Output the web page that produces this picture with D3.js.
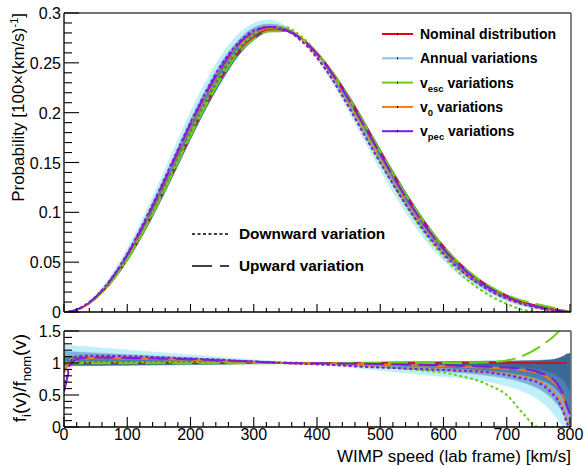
<!DOCTYPE html>
<html><head><meta charset="utf-8">
<script src="https://cdn.jsdelivr.net/npm/d3@7"></script>
<style>body{margin:0;background:#fff}svg{display:block}text{font-family:"Liberation Sans",Arial,sans-serif}</style>
</head><body><svg id="c" width="587" height="466"></svg>
<script>
// ---- data ----
const speed = [0,5,10,15,20,30,40,60,80,100,125,150,175,200,225,250,275,300,325,350,375,400,425,450,475,500,525,550,575,600,625,650,675,700,725,750,760,770,780,790,795,800];
const nominal = [0,0.0001,0.0005,0.0012,0.0022,0.0049,0.0088,0.0196,0.0345,0.0529,0.0803,0.1113,0.1443,0.1777,0.2093,0.2373,0.2605,0.2756,0.2832,0.2829,0.2750,0.2603,0.2399,0.2155,0.1887,0.1610,0.1339,0.1085,0.0856,0.0656,0.0489,0.0353,0.0246,0.0165,0.0103,0.0060,0.0047,0.0035,0.0024,0.0012,0.0006,0];
// annual variation family, as ratio to nominal (lightest -> darkest)
const annual1 = [1.28,1.28,1.27,1.27,1.265,1.26,1.25,1.235,1.22,1.205,1.185,1.165,1.145,1.13,1.11,1.09,1.07,1.05,1.035,1.015,1.0,0.975,0.955,0.935,0.91,0.885,0.86,0.835,0.81,0.79,0.765,0.74,0.70,0.64,0.56,0.43,0.35,0.25,0.13,0.02,0,0];
const annual2 = [1.18,1.18,1.175,1.175,1.17,1.165,1.16,1.15,1.14,1.13,1.12,1.105,1.095,1.085,1.07,1.06,1.045,1.035,1.02,1.01,1.0,0.99,0.975,0.96,0.945,0.93,0.915,0.90,0.885,0.87,0.85,0.83,0.80,0.76,0.70,0.60,0.54,0.46,0.35,0.20,0.10,0.05];
const annual3 = [1.10,1.10,1.10,1.10,1.10,1.095,1.095,1.09,1.085,1.08,1.075,1.07,1.06,1.055,1.045,1.04,1.03,1.02,1.01,1.005,1.0,0.995,0.988,0.98,0.972,0.963,0.953,0.943,0.933,0.922,0.91,0.895,0.875,0.85,0.81,0.75,0.71,0.66,0.57,0.43,0.32,0.24];
const annual4 = [1.02,1.02,1.02,1.02,1.02,1.02,1.02,1.02,1.02,1.02,1.018,1.016,1.014,1.012,1.01,1.008,1.006,1.004,1.002,1.0,1.0,0.999,0.996,0.993,0.99,0.986,0.982,0.978,0.974,0.97,0.965,0.958,0.95,0.94,0.925,0.90,0.88,0.85,0.80,0.72,0.64,0.56];
const annual5 = [0.96,0.96,0.96,0.96,0.96,0.96,0.96,0.962,0.963,0.965,0.967,0.97,0.972,0.975,0.978,0.98,0.985,0.99,0.993,0.995,0.998,1.0,1.005,1.01,1.012,1.015,1.018,1.02,1.02,1.02,1.022,1.025,1.03,1.03,1.035,1.04,1.045,1.05,1.07,1.11,1.14,1.15];
const vescUp   = [0.995,0.995,0.995,0.995,0.995,0.995,0.995,0.995,0.995,0.995,0.995,0.995,0.995,0.995,0.995,0.995,0.995,0.995,0.995,0.996,0.997,0.998,0.998,0.999,0.999,1.0,1.0,1.0,1.0,1.0,1.0,1.005,1.015,1.04,1.11,1.24,1.31,1.38,1.47,1.58,1.64,1.70];
const vescDown = [1.01,1.01,1.01,1.01,1.01,1.01,1.01,1.01,1.01,1.01,1.01,1.01,1.01,1.01,1.01,1.01,1.01,1.01,1.01,1.01,1.005,1.0,0.99,0.98,0.96,0.94,0.92,0.90,0.875,0.85,0.80,0.74,0.64,0.50,0.22,0,0,0,0,0,0,0];
const v0Up     = [0.85,0.95,1.0,1.04,1.06,1.07,1.075,1.075,1.075,1.07,1.065,1.06,1.055,1.05,1.04,1.035,1.025,1.015,1.005,1.0,0.995,0.99,0.99,0.985,0.98,0.975,0.97,0.965,0.96,0.955,0.945,0.935,0.925,0.91,0.89,0.84,0.80,0.74,0.64,0.44,0.30,0.20];
const v0Down   = [0.90,1.0,1.05,1.08,1.09,1.10,1.10,1.10,1.10,1.095,1.09,1.085,1.075,1.065,1.055,1.045,1.03,1.02,1.01,1.0,0.99,0.98,0.97,0.96,0.945,0.935,0.925,0.915,0.905,0.895,0.885,0.875,0.86,0.83,0.79,0.72,0.67,0.59,0.48,0.27,0.10,0];
const vpecUp   = [0.55,0.76,0.95,1.03,1.06,1.08,1.085,1.085,1.085,1.08,1.075,1.07,1.065,1.06,1.05,1.04,1.03,1.02,1.01,1.0,0.997,0.995,0.993,0.99,0.987,0.985,0.98,0.975,0.97,0.965,0.958,0.95,0.94,0.93,0.91,0.86,0.82,0.77,0.67,0.48,0.33,0.20];
const vpecDown = [0.60,0.82,1.0,1.08,1.10,1.11,1.115,1.115,1.11,1.105,1.10,1.09,1.08,1.07,1.06,1.05,1.035,1.025,1.01,1.0,0.99,0.98,0.97,0.955,0.94,0.93,0.92,0.91,0.90,0.89,0.88,0.87,0.85,0.81,0.76,0.69,0.63,0.54,0.43,0.22,0.06,0];
const xTicks = [0,100,200,300,400,500,600,700,800];
const yTopTicks = [0,0.05,0.1,0.15,0.2,0.25,0.3];
const yBotTicks = [0,0.5,1,1.5];
const legendNames = ["Nominal distribution","Annual variations","v|esc| variations","v|0| variations","v|pec| variations"];

// ---- drawing ----
const svg = d3.select("#c");
const L = 64, R = 571;
const x = d3.scaleLinear().domain([0,800]).range([L,570]);
const yT = d3.scaleLinear().domain([0,0.3]).range([312,13]);
const yB = d3.scaleLinear().domain([0,1.5]).range([427,331]);
const COL = {red:"#e8000b", annual:"#8fc0e6", green:"#6ccf16", orange:"#ec7c12", purple:"#7a1de0"};
const bandCols = ["#bfeff8","#7db0d9","#4c7eb0","#3b6896"];
const annual = [annual1,annual2,annual3,annual4,annual5];

const defs = svg.append("defs");
defs.append("clipPath").attr("id","cT").append("rect").attr("x",L).attr("y",13).attr("width",R-L).attr("height",299);
defs.append("clipPath").attr("id","cB").append("rect").attr("x",L).attr("y",331).attr("width",R-L).attr("height",96);

const gT = svg.append("g").attr("clip-path","url(#cT)");
const gB = svg.append("g").attr("clip-path","url(#cB)");

const idx = d3.range(speed.length);
for (let k=0;k<4;k++){
  const a = annual[k], b = annual[k+1];
  gT.append("path").attr("fill",bandCols[k]).attr("stroke",bandCols[k]).attr("stroke-width",0.6)
    .attr("d", d3.area().curve(d3.curveMonotoneX).x(i=>x(speed[i])).y0(i=>yT(nominal[i]*a[i])).y1(i=>yT(nominal[i]*b[i]))(idx));
  gB.append("path").attr("fill",bandCols[k]).attr("stroke",bandCols[k]).attr("stroke-width",0.6)
    .attr("d", d3.area().curve(d3.curveMonotoneX).x(i=>x(speed[i])).y0(i=>yB(a[i])).y1(i=>yB(b[i]))(idx));
}
const DOT = "3,2.5", DASH = "20,7";
const series = [
  {r:null, c:COL.red, d:null, w:1.6},
  {r:vescDown, c:COL.green, d:DOT, w:2},
  {r:vescUp, c:COL.green, d:DASH, w:2},
  {r:v0Down, c:COL.orange, d:DOT, w:2},
  {r:v0Up, c:COL.orange, d:DASH, w:2},
  {r:vpecDown, c:COL.purple, d:DOT, w:2},
  {r:vpecUp, c:COL.purple, d:DASH, w:2},
];
series.forEach(s=>{
  const ratio = i => s.r ? s.r[i] : nominal[i]/nominal[i];
  gT.append("path").attr("fill","none").attr("stroke",s.c).attr("stroke-width",s.w).attr("stroke-dasharray",s.d)
    .attr("d", d3.line().curve(d3.curveMonotoneX).x(i=>x(speed[i])).y(i=>yT(nominal[i]*(s.r? s.r[i]:1)))(idx));
  const di = idx.filter(i => s.r ? true : nominal[i]>0);
  gB.append("path").attr("fill","none").attr("stroke",s.c).attr("stroke-width",s.w).attr("stroke-dasharray",s.d)
    .attr("d", d3.line().curve(d3.curveMonotoneX).x(i=>x(speed[i])).y(i=>yB(ratio(i)))(di));
});

function frame(y0,y1){
  svg.append("line").attr("x1",L).attr("x2",R).attr("y1",y0).attr("y2",y0).attr("stroke","#444").attr("stroke-width",1.3);
  svg.append("line").attr("x1",R).attr("x2",R).attr("y1",y0).attr("y2",y1).attr("stroke","#444").attr("stroke-width",1.3);
  svg.append("line").attr("x1",L).attr("x2",R).attr("y1",y1).attr("y2",y1).attr("stroke","#000").attr("stroke-width",1.3);
  svg.append("line").attr("x1",L).attr("x2",L).attr("y1",y0).attr("y2",y1).attr("stroke","#000").attr("stroke-width",1.3);
}
frame(13,312); frame(331,427);

function xticks(yb, maj, mnr){
  d3.range(0,801,20).forEach(v=>{
    const m = v%100===0;
    svg.append("line").attr("x1",x(v)).attr("x2",x(v)).attr("y1",yb).attr("y2",yb-(m?maj:mnr)).attr("stroke","#000").attr("stroke-width",1.1);
  });
}
xticks(312,8,4); xticks(427,10,5);
d3.range(0,0.3001,0.01).forEach(v=>{
  const m = Math.abs(v/0.05-Math.round(v/0.05))<1e-6;
  svg.append("line").attr("x1",L).attr("x2",L+(m?15:8)).attr("y1",yT(v)).attr("y2",yT(v)).attr("stroke","#000").attr("stroke-width",1.1);
});
d3.range(0,1.5001,0.1).forEach(v=>{
  const m = Math.abs(v/0.5-Math.round(v/0.5))<1e-6;
  svg.append("line").attr("x1",L).attr("x2",L+(m?15:8)).attr("y1",yB(v)).attr("y2",yB(v)).attr("stroke","#000").attr("stroke-width",1.1);
});

const FS = 16;
yTopTicks.forEach(v=>svg.append("text").attr("x",61).attr("y",yT(v)+6).attr("text-anchor","end").attr("font-size",FS).text(d3.format("~g")(v)));
yBotTicks.forEach(v=>svg.append("text").attr("x",61).attr("y",yB(v)+6).attr("text-anchor","end").attr("font-size",FS).text(d3.format("~g")(v)));
xTicks.forEach(v=>svg.append("text").attr("x",x(v)).attr("y",440).attr("text-anchor","middle").attr("font-size",FS).text(v));

svg.append("text").attr("x",571).attr("y",462).attr("text-anchor","end").attr("font-size",17).text("WIMP speed (lab frame) [km/s]");
const yt = svg.append("text").attr("transform","translate(24,13) rotate(-90)").attr("text-anchor","end").attr("font-size",17);
yt.append("tspan").text("Probability [100×(km/s)");
yt.append("tspan").attr("dy",-6).attr("font-size",11).text("-1");
yt.append("tspan").attr("dy",6).text("]");
const yb = svg.append("text").attr("transform","translate(26,378) rotate(-90)").attr("text-anchor","middle").attr("font-size",19);
yb.append("tspan").text("f");
yb.append("tspan").attr("dy",5).attr("font-size",13).text("i");
yb.append("tspan").attr("dy",-5).text("(v)/f");
yb.append("tspan").attr("dy",5).attr("font-size",13).text("nom");
yb.append("tspan").attr("dy",-5).text("(v)");

const lg = svg.append("g");
const lcols = [COL.red, COL.annual, COL.green, COL.orange, COL.purple];
legendNames.forEach((n,i)=>{
  const y = 34 + i*24.3;
  lg.append("line").attr("x1",382).attr("x2",413).attr("y1",y).attr("y2",y).attr("stroke",lcols[i]).attr("stroke-width",2);
  lg.append("line").attr("x1",397.5).attr("x2",397.5).attr("y1",y-1).attr("y2",y+1).attr("stroke","#000").attr("stroke-width",1);
  const t = lg.append("text").attr("x",420).attr("y",y+5).attr("font-size",14).attr("font-weight","bold");
  const parts = n.split("|");
  if (parts.length===1) t.text(n);
  else {
    t.append("tspan").text(parts[0]);
    t.append("tspan").attr("dy",4).attr("font-size",9.5).text(parts[1]);
    t.append("tspan").attr("dy",-4).text(parts[2]);
  }
});
[["Downward variation",DOT,236],["Upward variation",DASH,268]].forEach(([n,d,y])=>{
  svg.append("line").attr("x1",192).attr("x2",229).attr("y1",y-2).attr("y2",y-2).attr("stroke","#000").attr("stroke-width",1.5).attr("stroke-dasharray",d==DASH?"20,8":"3,2.5");
  svg.append("text").attr("x",239).attr("y",y+3).attr("font-size",15.4).attr("font-weight","bold").text(n);
});
</script></body></html>
